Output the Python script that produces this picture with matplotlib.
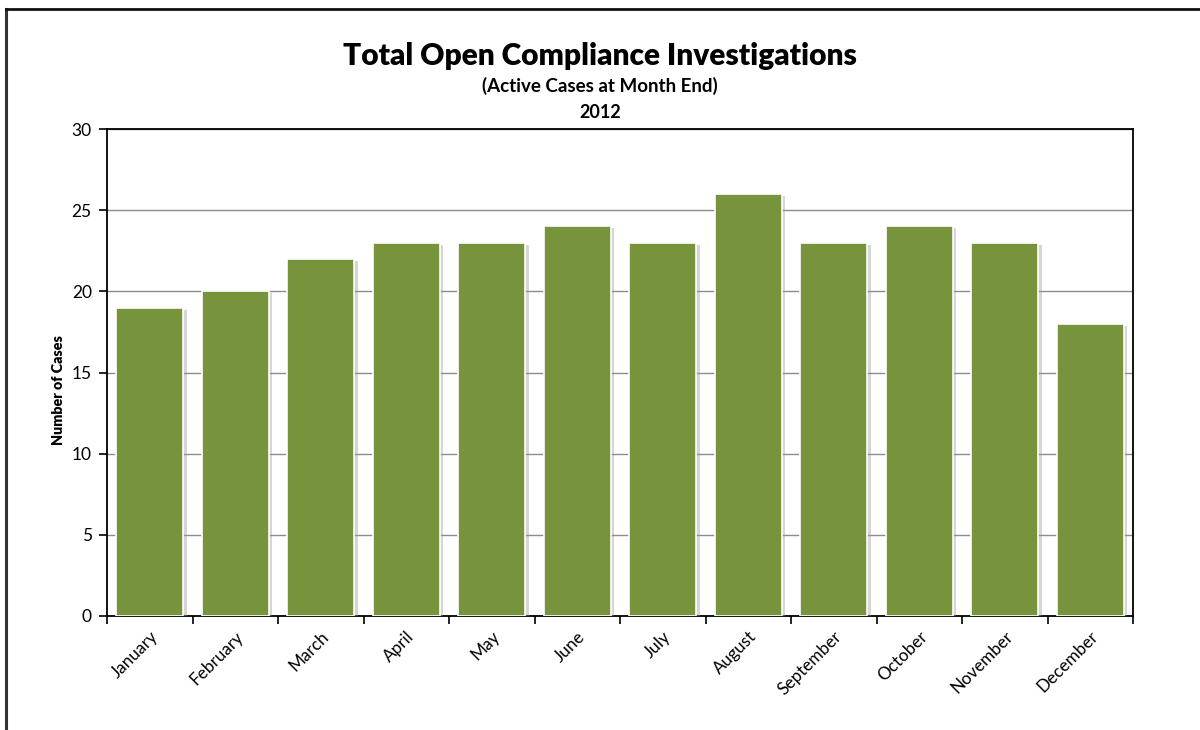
import matplotlib
matplotlib.use("Agg")
import matplotlib.pyplot as plt
import matplotlib.patheffects as pe
import numpy as np

months = ["January", "February", "March", "April", "May", "June", "July",
          "August", "September", "October", "November", "December"]
cases = [19, 20, 22, 23, 23, 24, 23, 26, 23, 24, 23, 18]
yticks = [0, 5, 10, 15, 20, 25, 30]

plt.rcParams['font.family'] = ['Lato', 'DejaVu Sans']

fig = plt.figure(figsize=(12, 7.3), dpi=100)
ax = fig.add_axes([107/1200, 1-616/730, (1133-107)/1200, (616-129)/730])

x = np.arange(len(months))
bars = ax.bar(x, cases, width=0.78, color='#77933C', edgecolor='white',
              linewidth=1.2, zorder=3)
for b in bars:
    b.set_path_effects([pe.SimplePatchShadow(offset=(2.5, -1.5), shadow_rgbFace='#9a9a9a', alpha=0.4),
                        pe.Normal()])

ax.set_xlim(-0.5, len(months) - 0.5)
ax.set_ylim(0, 30)
ax.set_yticks(yticks)
ax.yaxis.grid(True, color='#8c8c8c', linewidth=1.0, zorder=0)
ax.set_axisbelow(True)

ax.set_xticks(x)
ax.set_xticklabels(months, rotation=45, ha='right', rotation_mode='anchor', fontsize=12.3)
ax.tick_params(axis='x', which='major', length=0, pad=9)
ax.set_xticks(np.arange(-0.5, len(months) + 0.5, 1), minor=True)
ax.tick_params(axis='x', which='minor', length=6, width=1.2, direction='out', color='black')
ax.tick_params(axis='y', length=6, width=1.2, direction='out', labelsize=12.5, pad=5)

for s in ax.spines.values():
    s.set_linewidth(1.3)
    s.set_color('black')

ax.set_ylabel("Number of Cases", fontsize=10.3, fontweight='heavy')
ax.yaxis.set_label_coords(-0.041, 0.464)

fig.text(0.5, 0.923, "Total Open Compliance Investigations", ha='center', va='center',
         fontsize=21.5, fontweight='heavy')
fig.text(0.5, 0.882, "(Active Cases at Month End)", ha='center', va='center',
         fontsize=13.5, fontweight='bold')
fig.text(0.5, 0.846, "2012", ha='center', va='center', fontsize=13, fontweight='bold')

# outer frame (left and top edges)
fig.add_artist(plt.Line2D([6/1200, 6/1200], [0, 1-9/730], transform=fig.transFigure,
                          color='#333333', linewidth=2.2))
fig.add_artist(plt.Line2D([6/1200, 1], [1-9/730, 1-9/730], transform=fig.transFigure,
                          color='#111111', linewidth=2.0))

fig.savefig("out.png", dpi=100)
